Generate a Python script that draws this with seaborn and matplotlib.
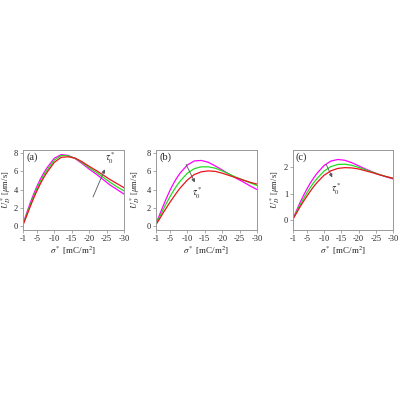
import numpy as np
import pandas as pd
import matplotlib
matplotlib.use("Agg")
import matplotlib.pyplot as plt
import seaborn as sns

# surface charge density sigma* [mC/m^2]
sigma = [-1, -2, -3, -4, -5, -6, -7, -8, -10, -12, -14, -16, -18, -20, -22, -24, -26, -28, -30]
series_names = ["magenta", "green", "red"]

# panel (a)
ua_magenta = [0.2, 1.35, 2.45, 3.45, 4.35, 5.15, 5.85, 6.45, 7.45, 7.85, 7.75, 7.4, 6.85, 6.25, 5.7, 5.1, 4.5, 4.0, 3.5]
ua_green = [0.15, 1.2, 2.25, 3.2, 4.1, 4.9, 5.6, 6.2, 7.25, 7.75, 7.7, 7.45, 6.95, 6.4, 5.9, 5.35, 4.8, 4.3, 3.85]
ua_red = [0.1, 1.05, 2.05, 3.0, 3.85, 4.65, 5.35, 5.95, 7.0, 7.55, 7.6, 7.45, 7.05, 6.55, 6.1, 5.6, 5.1, 4.65, 4.2]

# panel (b)
ub_magenta = [0.25, 1.2, 2.15, 3.05, 3.9, 4.65, 5.3, 5.85, 6.7, 7.15, 7.2, 7.0, 6.6, 6.15, 5.7, 5.25, 4.85, 4.4, 4.0]
ub_green = [0.2, 0.95, 1.75, 2.5, 3.2, 3.85, 4.45, 4.95, 5.8, 6.3, 6.5, 6.5, 6.35, 6.05, 5.7, 5.35, 5.05, 4.75, 4.45]
ub_red = [0.15, 0.75, 1.4, 2.0, 2.6, 3.15, 3.7, 4.2, 5.05, 5.65, 5.95, 6.05, 6.0, 5.8, 5.55, 5.3, 5.05, 4.8, 4.6]

# panel (c)
uc_magenta = [0.05, 0.35, 0.65, 0.92, 1.17, 1.4, 1.6, 1.78, 2.07, 2.24, 2.3, 2.27, 2.18, 2.06, 1.94, 1.83, 1.73, 1.64, 1.56]
uc_green = [0.05, 0.3, 0.56, 0.8, 1.02, 1.23, 1.42, 1.58, 1.86, 2.03, 2.11, 2.12, 2.08, 2.0, 1.91, 1.82, 1.73, 1.65, 1.58]
uc_red = [0.04, 0.26, 0.49, 0.7, 0.9, 1.09, 1.27, 1.43, 1.7, 1.87, 1.96, 1.99, 1.98, 1.94, 1.87, 1.8, 1.72, 1.65, 1.59]

xticks = [-1, -5, -10, -15, -20, -25, -30]
panel_labels = ["(a)", "(b)", "(c)"]
yticks_list = [[0, 2, 4, 6, 8], [0, 2, 4, 6, 8], [0, 1, 2]]

sns.set_style("ticks")
plt.rcParams["font.family"] = ["Liberation Serif", "DejaVu Serif"]
plt.rcParams["mathtext.fontset"] = "stix"

palette = {"magenta": "#ff00ff", "green": "#22dd22", "red": "#e8141c"}


def make_frame(m, g, r):
    rows = []
    for name, vals in zip(series_names, [m, g, r]):
        for s, u in zip(sigma, vals):
            rows.append({"sigma": s, "U": u, "series": name})
    return pd.DataFrame(rows)


frames = [make_frame(ua_magenta, ua_green, ua_red),
          make_frame(ub_magenta, ub_green, ub_red),
          make_frame(uc_magenta, uc_green, uc_red)]

fig = plt.figure(figsize=(4, 4), dpi=100)
ax_rects = [[0.0575, 0.425, 0.2525, 0.2],
            [0.39, 0.425, 0.2525, 0.2],
            [0.7325, 0.425, 0.25, 0.2]]
ylims = [(-0.45, 8.35), (-0.45, 8.35), (-0.38, 2.66)]
ylabel_x = [-0.1, -0.14, -0.115]

# arrows: (tail, head, label position)
arrows = [((-20.8, 2.9), (-24.8, 6.5), (-26.0, 7.5)),
          ((-9.3, 7.05), (-12.5, 4.5), (-12.8, 3.6)),
          ((-10.3, 2.21), (-12.7, 1.52), (-13.7, 1.18))]

for i, df in enumerate(frames):
    ax = fig.add_axes(ax_rects[i])
    sns.lineplot(data=df, x="sigma", y="U", hue="series", palette=palette,
                 linewidth=0.9, legend=False, ax=ax)
    ax.set_xlim(-1, -30)
    ax.set_ylim(*ylims[i])
    ax.set_xticks(xticks)
    ax.set_xticklabels([str(t) for t in xticks])
    ax.set_yticks(yticks_list[i])
    ax.tick_params(labelsize=6, length=2, width=0.5, pad=1.5, color="#888888")
    for sp in ax.spines.values():
        sp.set_color("#999999")
        sp.set_linewidth(0.7)
    ax.set_xlabel(r"$\sigma^*$ [mC/m$^2$]", fontsize=6.5, labelpad=1)
    ax.set_ylabel(r"$U^*_D$ [$\mu$m/s]", fontsize=6.2)
    ax.yaxis.set_label_coords(ylabel_x[i], 0.5)
    ax.text(0.03, 0.97, panel_labels[i], transform=ax.transAxes,
            fontsize=7.5, va="top", ha="left")
    tail, head, lab = arrows[i]
    ax.annotate("", xy=head, xytext=tail,
                arrowprops=dict(arrowstyle="-|>", color="#555555", lw=0.6,
                                mutation_scale=5))
    ax.text(lab[0], lab[1], r"$\tau^*_0$", fontsize=7, ha="center", va="center")

fig.savefig("out.png", dpi=100)
